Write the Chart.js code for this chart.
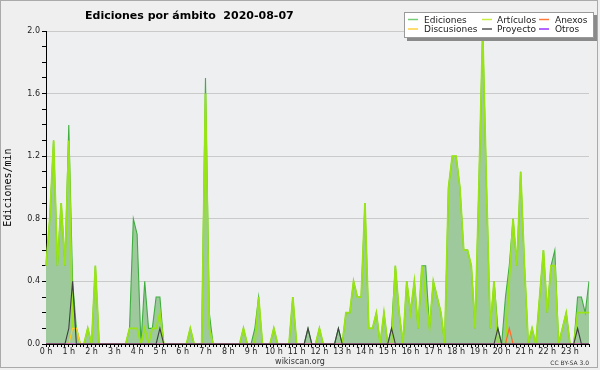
<!DOCTYPE html>
<html>
<head>
<meta charset="utf-8">
<script src="https://cdn.jsdelivr.net/npm/chart.js@4.4.1/dist/chart.umd.min.js"></script>
<style>
  html, body { margin: 0; padding: 0; background: #fff; }
  #wrap { width: 600px; height: 370px; }
</style>
</head>
<body>
<div id="wrap"><canvas id="myChart" width="600" height="370"></canvas></div>
<script>
// one value every 10 minutes, six per row = one hour per row
const hourLabels = ['0 h', '1 h', '2 h', '3 h', '4 h', '5 h', '6 h', '7 h', '8 h', '9 h', '10 h', '11 h',
  '12 h', '13 h', '14 h', '15 h', '16 h', '17 h', '18 h', '19 h', '20 h', '21 h', '22 h', '23 h'];

const ediciones = [
  0.5, 0.8, 1.3, 0.5, 0.9, 0.5,
  1.4, 0.4, 0.1, 0, 0, 0.1,
  0, 0.5, 0, 0, 0, 0,
  0, 0, 0, 0, 0.1, 0.8,
  0.7, 0, 0.4, 0.1, 0.1, 0.3,
  0.3, 0, 0, 0, 0, 0,
  0, 0, 0.1, 0, 0, 0,
  1.7, 0.2, 0, 0, 0, 0,
  0, 0, 0, 0, 0.1, 0,
  0, 0.1, 0.3, 0, 0, 0,
  0.1, 0, 0, 0, 0, 0.3,
  0, 0, 0, 0.1, 0, 0,
  0.1, 0, 0, 0, 0, 0.1,
  0, 0.2, 0.2, 0.4, 0.3, 0.3,
  0.9, 0.1, 0.1, 0.2, 0, 0.2,
  0, 0.1, 0.5, 0.2, 0, 0.4,
  0.2, 0.4, 0.1, 0.5, 0.5, 0.1,
  0.4, 0.3, 0.2, 0, 1.0, 1.2,
  1.2, 1.0, 0.6, 0.6, 0.5, 0.1,
  1.0, 2.0, 1.0, 0.1, 0.4, 0.1,
  0, 0.3, 0.5, 0.8, 0.5, 1.1,
  0.5, 0, 0.1, 0, 0.3, 0.6,
  0.2, 0.5, 0.6, 0, 0.1, 0.2,
  0, 0, 0.3, 0.3, 0.2, 0.4
];

const articulos = [
  0.5, 0.8, 1.3, 0.5, 0.9, 0.5,
  1.3, 0.1, 0.1, 0, 0, 0.1,
  0, 0.5, 0, 0, 0, 0,
  0, 0, 0, 0, 0.1, 0.1,
  0.1, 0, 0.1, 0, 0.1, 0.1,
  0.2, 0, 0, 0, 0, 0,
  0, 0, 0.1, 0, 0, 0,
  1.6, 0.1, 0, 0, 0, 0,
  0, 0, 0, 0, 0.1, 0,
  0, 0, 0.3, 0, 0, 0,
  0.1, 0, 0, 0, 0, 0.3,
  0, 0, 0, 0, 0, 0,
  0.1, 0, 0, 0, 0, 0,
  0, 0.2, 0.2, 0.4, 0.3, 0.3,
  0.9, 0.1, 0.1, 0.2, 0, 0.2,
  0, 0, 0.5, 0.2, 0, 0.4,
  0.2, 0.4, 0.1, 0.5, 0.3, 0.1,
  0.4, 0.3, 0.2, 0, 1.0, 1.2,
  1.2, 1.0, 0.6, 0.6, 0.5, 0.1,
  1.0, 2.0, 1.0, 0.1, 0.4, 0,
  0, 0, 0.4, 0.8, 0.5, 1.1,
  0.5, 0, 0.1, 0, 0.3, 0.6,
  0.2, 0.5, 0.5, 0, 0.1, 0.2,
  0, 0, 0.2, 0.2, 0.2, 0.2
];

const anexos = [
  0, 0, 0, 0, 0, 0,  0, 0, 0, 0, 0, 0,  0, 0, 0, 0, 0, 0,  0, 0, 0, 0, 0, 0,
  0, 0, 0, 0, 0, 0,  0, 0, 0, 0, 0, 0,  0, 0, 0, 0, 0, 0,  0, 0, 0, 0, 0, 0,
  0, 0, 0, 0, 0, 0,  0, 0, 0, 0, 0, 0,  0, 0, 0, 0, 0, 0,  0, 0, 0, 0, 0, 0,
  0, 0, 0, 0, 0, 0,  0, 0, 0, 0, 0, 0,  0, 0, 0, 0, 0, 0,  0, 0, 0, 0, 0, 0,
  0, 0, 0, 0, 0, 0,  0, 0, 0, 0, 0, 0,  0, 0, 0, 0, 0, 0,  0, 0, 0, 0, 0, 0,
  0, 0, 0.1, 0, 0, 0,  0, 0, 0, 0, 0, 0,  0, 0, 0, 0, 0, 0,  0, 0, 0, 0, 0, 0
];

const discusiones = [
  0, 0, 0, 0, 0, 0,  0, 0.1, 0.1, 0, 0, 0,  0, 0, 0, 0, 0, 0,  0, 0, 0, 0, 0, 0,
  0, 0, 0, 0, 0, 0,  0, 0, 0, 0, 0, 0,  0, 0, 0, 0, 0, 0,  0, 0, 0, 0, 0, 0,
  0, 0, 0, 0, 0, 0,  0, 0, 0, 0, 0, 0,  0, 0, 0, 0, 0, 0,  0, 0, 0, 0, 0, 0,
  0, 0, 0, 0, 0, 0,  0, 0, 0, 0, 0, 0,  0, 0, 0, 0, 0, 0,  0, 0, 0, 0, 0, 0,
  0, 0, 0, 0, 0, 0,  0, 0, 0, 0, 0, 0,  0, 0, 0, 0, 0, 0,  0, 0, 0, 0, 0, 0,
  0, 0, 0, 0, 0, 0,  0, 0, 0, 0, 0, 0,  0, 0, 0, 0, 0, 0,  0, 0, 0, 0, 0, 0
];

const proyecto = [
  0, 0, 0, 0, 0, 0,  0.1, 0.4, 0, 0, 0, 0,  0, 0, 0, 0, 0, 0,  0, 0, 0, 0, 0, 0,
  0, 0, 0, 0, 0, 0,  0.1, 0, 0, 0, 0, 0,  0, 0, 0, 0, 0, 0,  0, 0, 0, 0, 0, 0,
  0, 0, 0, 0, 0, 0,  0, 0, 0, 0, 0, 0,  0, 0, 0, 0, 0, 0,  0, 0, 0, 0.1, 0, 0,
  0, 0, 0, 0, 0, 0.1,  0, 0, 0, 0, 0, 0,  0, 0, 0, 0, 0, 0,  0, 0.1, 0, 0, 0, 0,
  0, 0, 0, 0, 0, 0,  0, 0, 0, 0, 0, 0,  0, 0, 0, 0, 0, 0,  0, 0, 0, 0, 0, 0.1,
  0, 0, 0, 0, 0, 0,  0, 0, 0, 0, 0, 0,  0, 0, 0, 0, 0, 0,  0, 0, 0.1, 0, 0, 0
];

const otros = new Array(144).fill(0);

const times = [];
for (let h = 0; h < 24; h++) {
  for (let m = 0; m < 60; m += 10) times.push(h + ':' + String(m).padStart(2, '0'));
}

const titleText = 'Ediciones por ámbito  2020-08-07';
const font = "'DejaVu Sans'";

// legend slots: [sample x, text x, row]
const legendSlots = {
  'Ediciones': [408, 424, 0], 'Artículos': [482, 497, 0], 'Anexos': [539, 555, 0],
  'Discusiones': [408, 424, 1], 'Proyecto': [482, 497, 1], 'Otros': [539, 555, 1]
};

const decor = {
  id: 'decor',
  beforeDraw(chart) {
    const { ctx, chartArea: a } = chart;
    ctx.save();
    ctx.fillStyle = '#efefef';
    ctx.fillRect(0, 0, chart.width, chart.height);
    ctx.fillStyle = '#eeeff1';
    ctx.fillRect(a.left, a.top, a.right - a.left, a.bottom - a.top);
    ctx.restore();
  },
  afterDraw(chart) {
    const ctx = chart.ctx;
    ctx.save();
    ctx.strokeStyle = '#aaaaaa';
    ctx.lineWidth = 1;
    ctx.strokeRect(0.5, 0.5, 597, 367);

    ctx.fillStyle = '#000';
    ctx.font = "bold 11px " + font;
    ctx.textAlign = 'left';
    ctx.textBaseline = 'alphabetic';
    ctx.fillText(titleText, 85, 19);

    ctx.fillStyle = '#333';
    ctx.font = "8px " + font;
    ctx.textAlign = 'center';
    ctx.fillText('wikiscan.org', 300, 364);
    ctx.font = "6px " + font;
    ctx.textAlign = 'right';
    ctx.fillText('CC BY-SA 3.0', 589, 365);

    // legend box
    ctx.fillStyle = '#8a8a8a';
    ctx.fillRect(407, 15, 190, 26);
    ctx.fillStyle = '#ffffff';
    ctx.fillRect(404, 12, 190, 26);
    ctx.strokeStyle = '#9a9a9a';
    ctx.strokeRect(404.5, 12.5, 189, 25);
    ctx.font = "9px " + font;
    ctx.textAlign = 'left';
    chart.data.datasets.forEach((ds) => {
      const s = legendSlots[ds.label];
      const ly = s[2] === 0 ? 19.5 : 29;
      ctx.strokeStyle = ds.legendColor;
      ctx.lineWidth = 1.5;
      ctx.beginPath();
      ctx.moveTo(s[0], ly);
      ctx.lineTo(s[0] + 10, ly);
      ctx.stroke();
      ctx.fillStyle = '#222';
      ctx.fillText(ds.label, s[1], s[2] === 0 ? 22.5 : 32);
    });
    ctx.restore();
  }
};

const line = (label, data, color, legendColor, width, order, extra) => Object.assign({
  label, data, borderColor: color, legendColor, borderWidth: width, order,
  pointRadius: 0, tension: 0, fill: false
}, extra || {});

new Chart(document.getElementById('myChart'), {
  type: 'line',
  data: {
    labels: times,
    datasets: [
      line('Ediciones', ediciones, '#3fae3f', '#77cc77', 1.1, 6,
        { fill: 'origin', backgroundColor: '#9dc99d' }),
      line('Artículos', articulos, '#98e414', '#c6ee3c', 1.8, 5),
      line('Anexos', anexos, '#ff6a2a', '#ff7a3a', 1.2, 3),
      line('Discusiones', discusiones, '#ffcc22', '#ffd040', 1.2, 4),
      line('Proyecto', proyecto, '#404040', '#555555', 1.1, 1),
      line('Otros', otros, '#9933ff', '#9933ff', 1.2, 2)
    ]
  },
  options: {
    responsive: false,
    animation: false,
    devicePixelRatio: 1,
    layout: { padding: { top: 31, right: 11, left: 0, bottom: 0 } },
    plugins: {
      legend: { display: false },
      tooltip: { enabled: false }
    },
    scales: {
      x: {
        z: 1,
        offset: false,
        afterFit: (s) => { s.height = 26; },
        border: { color: '#000', width: 1 },
        grid: { drawOnChartArea: false, drawTicks: true, tickLength: 3, tickColor: '#000' },
        ticks: {
          autoSkip: false,
          maxRotation: 0,
          padding: 0,
          color: '#222',
          font: { family: font, size: 8 },
          callback: (v, i) => (i % 6 === 0 ? hourLabels[i / 6] : '')
        }
      },
      y: {
        min: 0,
        max: 2.0,
        afterFit: (s) => { s.width = 46; },
        border: { color: '#000', width: 1 },
        grid: {
          color: (c) => (c.tick && Math.round(c.tick.value * 10) % 4 === 0 ? '#cacaca' : 'rgba(0,0,0,0)'),
          tickColor: '#000',
          tickLength: 4
        },
        ticks: {
          stepSize: 0.1,
          autoSkip: false,
          padding: 2,
          color: '#222',
          font: { family: font, size: 8 },
          callback: (v) => (Math.round(v * 10) % 4 === 0 ? v.toFixed(1) : '')
        },
        title: {
          display: true,
          text: 'Ediciones/min',
          color: '#000',
          padding: { top: 2, bottom: 0 },
          font: { family: "'DejaVu Sans Mono'", size: 10 }
        }
      }
    }
  },
  plugins: [decor]
});
</script>
</body>
</html>
